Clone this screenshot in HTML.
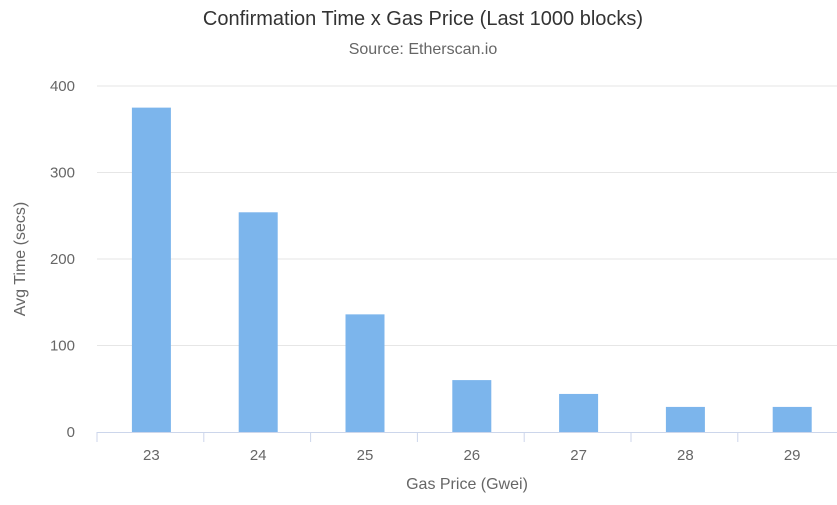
<!DOCTYPE html>
<html><head><meta charset="utf-8"><style>
body{margin:0;background:#fff;overflow:hidden;}
svg{display:block;font-family:"Liberation Sans",sans-serif;}
</style></head><body>
<svg id="chart" width="837" height="505" viewBox="0 0 837 505">
<text x="423" y="25" text-anchor="middle" font-size="20" fill="#333">Confirmation Time x Gas Price (Last 1000 blocks)</text>
<text x="423" y="54" text-anchor="middle" font-size="16" fill="#666">Source: Etherscan.io</text>
<text transform="translate(25,259) rotate(-90)" text-anchor="middle" font-size="16" fill="#666">Avg Time (secs)</text>
<text x="467" y="489" text-anchor="middle" font-size="16" fill="#666">Gas Price (Gwei)</text>
<g id="grid"></g><g id="bars"></g><g id="axis"></g>
</svg>
<script>
const categories=["23","24","25","26","27","28","29"];
const values=[375,254,136,60,44,29,29];
const yTicks=[0,100,200,300,400];
const NS="http://www.w3.org/2000/svg";
const x0=98,band=106.8,xEnd=837,y0=432,yTop=86,yMax=400;
function yScale(v){return y0-(v/yMax)*(y0-yTop);}
function xCenter(i){return x0+band*(i+0.5);}
function mk(tag,attrs,parent){const e=document.createElementNS(NS,tag);for(const k in attrs)e.setAttribute(k,attrs[k]);parent.appendChild(e);return e;}
const grid=document.getElementById('grid'),bars=document.getElementById('bars'),axis=document.getElementById('axis');
yTicks.forEach(t=>{const y=yScale(t);
 if(t>0){const l=mk('line',{x1:x0-1,x2:xEnd,y1:y,y2:y,stroke:'#e6e6e6','stroke-width':1},grid);
 
 }
 const tx=mk('text',{x:75,y:y+5,'text-anchor':'end','font-size':15,fill:'#666'},grid);tx.textContent=t;
 
 
});
const al=mk('line',{x1:x0-1,x2:xEnd,y1:y0+0.5,y2:y0+0.5,stroke:'#ccd6eb','stroke-width':1},axis);


for(let i=0;i<=categories.length;i++){const x=x0-1+band*i;
 const tk=mk('line',{x1:x,x2:x,y1:y0,y2:y0+10,stroke:'#ccd6eb','stroke-width':1},axis);
 
 }
categories.forEach((c,i)=>{const cx=xCenter(i),w=39,y=yScale(values[i]);
 const r=mk('rect',{x:cx-w/2,y:y,width:w,height:y0-y,fill:'#7cb5ec'},bars);
 
 
 const t=mk('text',{x:cx,y:460,'text-anchor':'middle','font-size':15,fill:'#666'},axis);t.textContent=c;
 
 
});
</script>
</body></html>
